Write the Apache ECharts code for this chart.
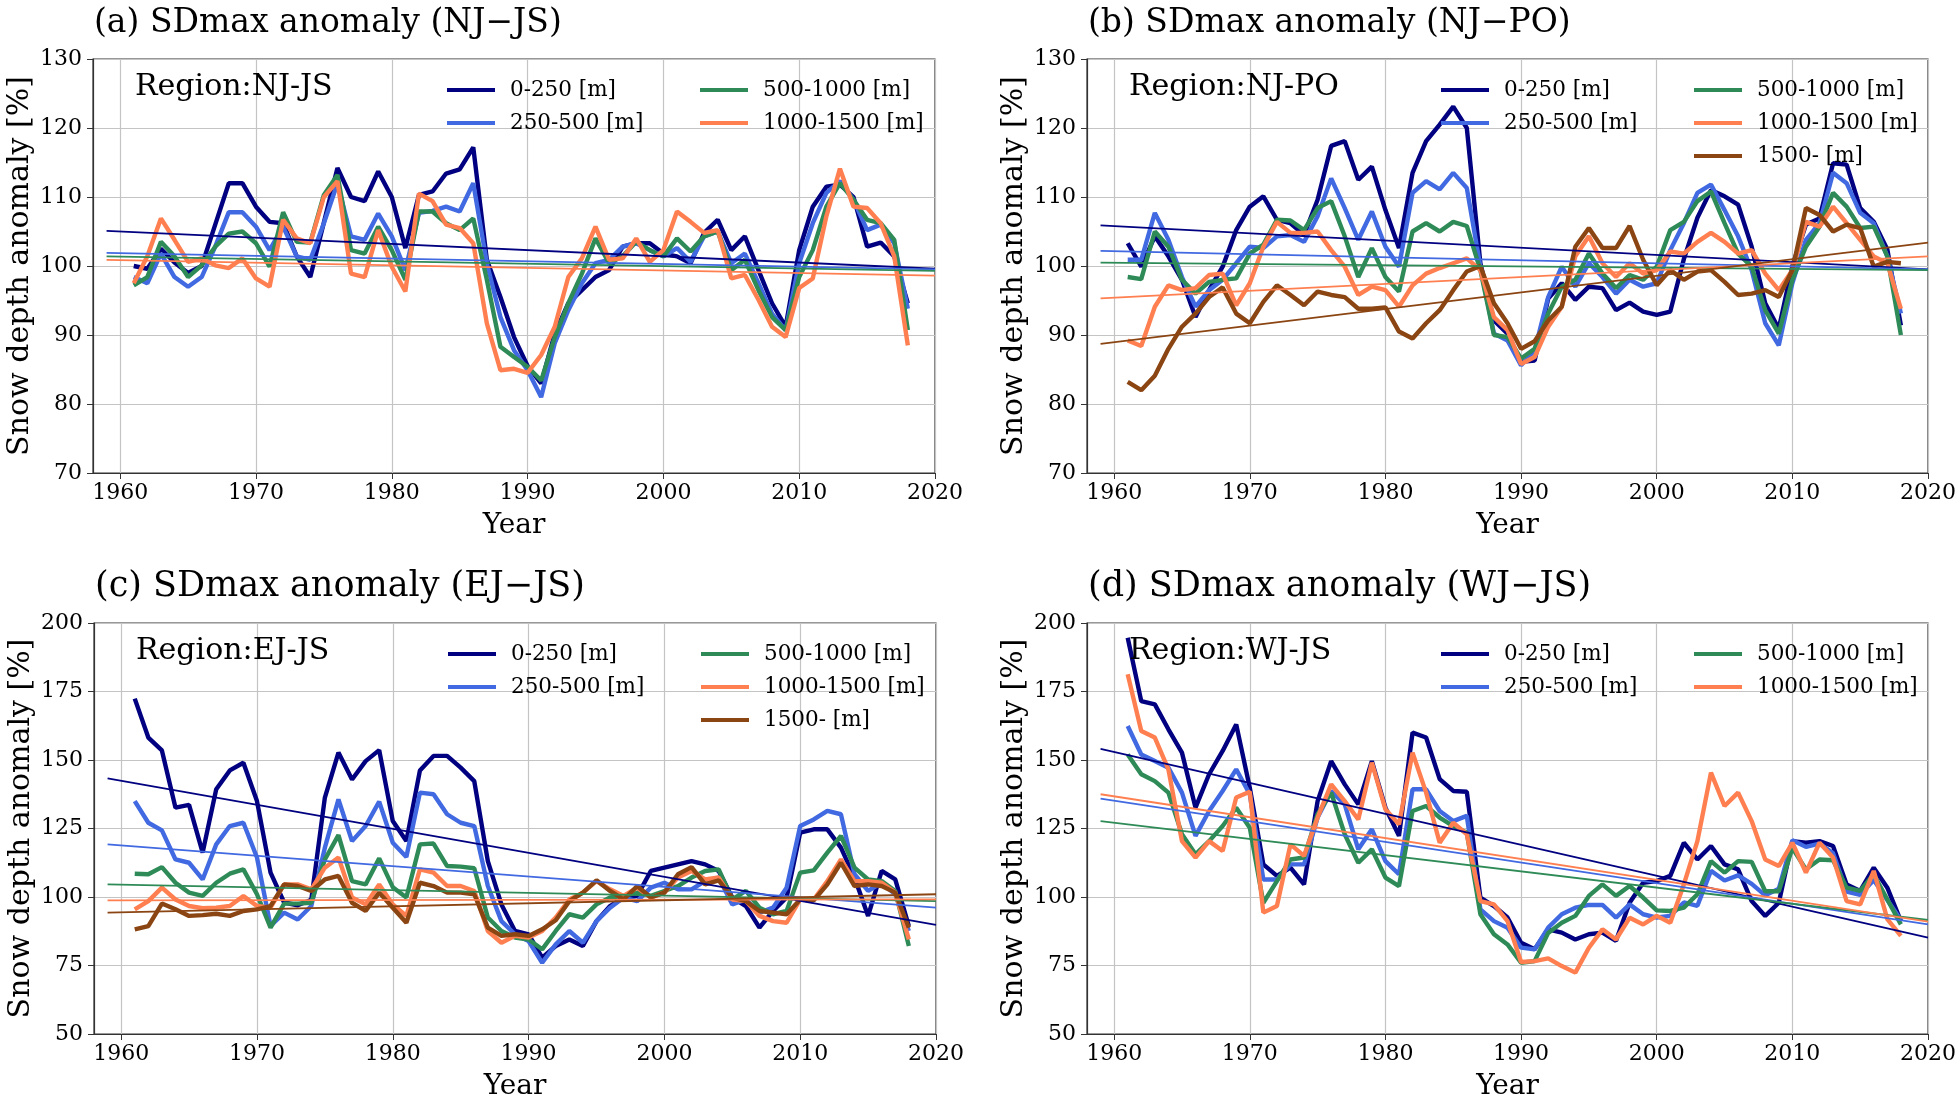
<!DOCTYPE html>
<html>
<head>
<meta charset="utf-8">
<script src="https://cdn.jsdelivr.net/npm/echarts@6/dist/echarts.min.js"></script>
<style>
  html, body { margin: 0; padding: 0; background: #fff; }
  #main { width: 1959px; height: 1102px; }
</style>
</head>
<body>
<div id="main"></div>
<script>
// years 1961-2018 (one value per winter)
var years = [];
for (var y = 1961; y <= 2018; y++) years.push(y);
var trendYears = [1959, 2020];
var xTicks = [1960, 1970, 1980, 1990, 2000, 2010, 2020];

var bands = ['0-250 [m]', '250-500 [m]', '500-1000 [m]', '1000-1500 [m]', '1500- [m]'];
var colors = ['#000080', '#4169e1', '#2e8b57', '#ff7f50', '#8b4513'];

// (a) NJ-JS
var a_0_250 = [100, 99.6, 102.5, 100.5, 99, 100, 106, 112, 112, 108.6,
  106.4, 106.2, 101.4, 98.4, 106.3, 114.2, 110, 109.4, 113.7, 110,
  102.6, 110.3, 110.8, 113.4, 114, 117.2, 100.9, 95.5, 89.7, 85.5,
  83, 90.2, 94.6, 96.5, 98.4, 99.4, 102.8, 103.3, 103.3, 101.8,
  101.4, 100.4, 104.8, 106.7, 102.3, 104.3, 99.4, 94.6, 91.2, 102.3,
  108.6, 111.5, 111.8, 110, 102.8, 103.4, 101.4, 94.6];
var a_250_500 = [98.4, 97.5, 101.8, 98.4, 97, 98.4, 102.8, 107.8, 107.8, 105.7,
  102.3, 105.7, 101.4, 100.9, 106.2, 112, 104.3, 103.8, 107.6, 104.3,
  99.4, 107.7, 108, 108.6, 107.9, 112, 100.4, 92.6, 87.8, 84.9,
  81, 88.8, 93.6, 97.5, 100.4, 100.9, 102.8, 103.3, 102.3, 101.4,
  102.6, 100.6, 104.3, 105, 100.4, 101.8, 97.5, 93.1, 90.7, 100.4,
  106.2, 110.6, 112.3, 109.6, 105.2, 106, 103.3, 93.8];
var a_500_1000 = [97.2, 98.4, 103.5, 101.4, 98.4, 100.1, 102.8, 104.7, 105, 103.3,
  99.9, 107.8, 103.5, 103.4, 110.3, 113.2, 102.3, 101.8, 105.7, 102.3,
  98, 107.9, 107.9, 106.2, 105.2, 106.9, 98, 88.3, 86.8, 85.4,
  83.4, 89.7, 94.6, 98.9, 104, 100.4, 101.4, 103.5, 102.3, 101.4,
  104, 102.1, 104.3, 105, 99.4, 100.9, 96.5, 92.6, 90.7, 98.4,
  102.3, 108.6, 112, 109.6, 106.7, 106.2, 103.8, 90.7];
var a_1000_1500 = [97.5, 101.4, 106.9, 103.8, 100.6, 101.1, 100.1, 99.7, 101.1, 98.2,
  97, 106.7, 104, 103.3, 110, 112.3, 98.9, 98.4, 105.2, 99.9,
  96.3, 110.5, 109.4, 106, 105.5, 103.3, 91.7, 84.9, 85.1, 84.5,
  87.1, 91.2, 98.4, 101.1, 105.7, 100.9, 101.1, 104, 100.6, 102.3,
  107.9, 106.4, 104.8, 105.2, 98.2, 98.7, 95.1, 91.2, 89.7, 96.8,
  98.2, 107.2, 114.1, 108.6, 108.4, 106.2, 101.4, 88.5];
var a_trends = [[105.1, 99.6], [101.9, 99.5], [101.4, 99.3], [100.9, 98.6]];

// (b) NJ-PO
var b_0_250 = [103.3, 99.9, 104.3, 101.4, 98, 92.6, 96.5, 99.9, 105.2, 108.6,
  110.1, 106.7, 106.2, 104.5, 109.6, 117.4, 118.1, 112.5, 114.4, 108.1,
  102.6, 113.5, 118.1, 120.5, 123.1, 120, 100.4, 92.1, 90.2, 86.1,
  86.3, 95.3, 97.5, 95.1, 97, 96.8, 93.6, 94.7, 93.4, 92.9,
  93.4, 101, 107, 111, 110.1, 108.9, 102.8, 94.6, 90.9, 100,
  106, 106.9, 114.9, 114.7, 108.4, 106.4, 102.4, 91.4];
var b_250_500 = [100.9, 100.9, 107.7, 103.8, 98.4, 94.1, 96.5, 98, 100.4, 102.8,
  102.6, 104.3, 104.5, 103.5, 107.2, 112.7, 108.4, 103.8, 107.9, 102.8,
  99.9, 110.6, 112.3, 111.1, 113.5, 111.3, 99.9, 90.2, 89.2, 85.6,
  87.8, 95.5, 99.9, 97, 100.4, 98.4, 96, 98, 97, 97.5,
  102.3, 106.2, 110.6, 111.8, 108.1, 104.3, 99.4, 91.7, 88.5, 97.5,
  103.8, 106.2, 113.5, 112, 107.7, 106.2, 101.4, 93.1];
var b_500_1000 = [98.4, 98.1, 105, 102.8, 98, 96, 97.7, 98, 98.2, 101.8,
  103.1, 106.7, 106.6, 105.2, 108.4, 109.4, 104.3, 98.4, 102.6, 98.4,
  96.3, 105, 106.2, 105, 106.4, 105.8, 99.4, 90, 89.7, 86.6,
  88, 93.1, 97, 98, 101.8, 98.9, 96.8, 98.7, 98, 99.9,
  105.2, 106.4, 109.4, 110.8, 106.2, 101.8, 99.9, 93.6, 90.2, 98,
  102.8, 105.7, 110.6, 108.6, 105.5, 105.7, 101.4, 90];
var b_1000_1500 = [89.2, 88.4, 94.1, 97.2, 96.5, 96.8, 98.7, 98.9, 94.3, 97.5,
  102.8, 106.4, 104.8, 104.8, 105, 102.3, 99.9, 95.8, 97, 96.5,
  94.1, 97.2, 98.9, 99.7, 100.4, 101.1, 99.4, 92.6, 90.7, 85.8,
  86.8, 91.2, 94.1, 101.4, 104.3, 100.4, 98.4, 100.4, 98.9, 99.4,
  102.1, 101.8, 103.5, 104.8, 103.5, 101.8, 102.3, 98.9, 96.5, 99.4,
  106.4, 105.7, 108.6, 106.2, 103.8, 101.4, 100.4, 93.8];
var b_1500 = [83.2, 82, 84.1, 88, 91.2, 93.1, 95.5, 96.9, 93.1, 91.7,
  94.8, 97.2, 95.8, 94.3, 96.3, 95.8, 95.5, 93.8, 93.8, 94,
  90.5, 89.5, 91.7, 93.6, 96.5, 99.2, 100, 94.6, 91.7, 88,
  89.1, 92.1, 94.1, 102.8, 105.5, 102.6, 102.6, 105.8, 100.9, 97.2,
  99.4, 98, 99.2, 99.4, 97.7, 95.8, 96, 96.5, 95.5, 99.4,
  108.4, 107.4, 105, 106, 105.5, 99.9, 100.6, 100.4];
var b_trends = [[105.9, 99.5], [102.2, 99.5], [100.5, 99.4], [95.3, 101.4], [88.7, 103.4]];

// (c) EJ-JS
var c_0_250 = [172.4, 158.2, 153.5, 132.6, 133.6, 116.2, 139.3, 146.2, 149, 135,
  108.9, 98, 97, 99, 136.3, 152.7, 142.9, 149.6, 153.6, 127.7,
  120.4, 146.2, 151.5, 151.5, 147.2, 142.3, 113.1, 97.3, 87.6, 86.4,
  77.9, 82.1, 84.5, 82.1, 91.2, 96.7, 99.8, 100.4, 109.5, 110.7,
  111.9, 113.1, 111.9, 109.5, 99.8, 96.7, 88.8, 94.9, 99.8, 123.5,
  124.7, 124.7, 118, 107.1, 93.1, 109.5, 106.4, 89.4];
var c_250_500 = [135, 127.1, 124.3, 113.7, 112.5, 106.4, 119.2, 125.9, 127.1, 114.4,
  89.4, 94.3, 91.8, 96.7, 118, 135.6, 120.4, 125.9, 134.8, 119.8,
  114.6, 138.1, 137.5, 130.2, 127.1, 125.9, 104, 91.2, 86.4, 83.9,
  76, 82.7, 87.6, 83.3, 91.2, 96.1, 99.8, 98.5, 103.4, 105.2,
  102.8, 102.8, 105.8, 107.1, 97.3, 99.1, 94.3, 96.1, 103.4, 125.9,
  128.3, 131.4, 130.2, 108.3, 102.2, 105.2, 101, 87.6];
var c_500_1000 = [108.5, 108.3, 110.9, 105.2, 101.6, 100.4, 105.2, 108.5, 110.1, 101,
  88.8, 97.6, 97.6, 97.9, 113.7, 122.6, 105.8, 104.6, 114.1, 103.6,
  99.8, 119.2, 119.5, 111.3, 111.1, 110.5, 92.5, 87.6, 85.2, 84.5,
  80.9, 87.6, 93.7, 92.5, 97.3, 99.8, 100.4, 101.6, 100.4, 102.2,
  104, 107.1, 109.5, 110.1, 99.1, 102.2, 96.1, 93.7, 94.9, 108.9,
  109.7, 116.2, 122.3, 110.7, 106.4, 105.8, 102.2, 82.1];
var c_1000_1500 = [95.5, 98.5, 103.4, 99.1, 96.7, 95.9, 96.1, 96.7, 100.4, 96.7,
  96.1, 104.6, 104.6, 102.8, 110.7, 114.4, 99.8, 97.3, 104.6, 97.3,
  93.1, 110.1, 108.9, 104, 104, 102.2, 87.6, 83.3, 85.8, 85.2,
  87.6, 92.5, 99.1, 101.6, 105.8, 102.8, 100.4, 103.4, 99.8, 101.6,
  107.1, 109.5, 106.4, 107.1, 99.1, 98.5, 93.1, 91.2, 90.6, 99.1,
  99.1, 105.8, 113.7, 105.8, 105.8, 105.2, 101.6, 84.5];
var c_1500 = [88.2, 89.4, 97.6, 95.5, 93.1, 93.4, 93.9, 93.1, 94.9, 95.5,
  96.7, 104.6, 104, 102.2, 106.4, 107.7, 97.9, 94.9, 101.6, 96.1,
  90.6, 105.2, 104, 101.6, 101.6, 101, 88.8, 85.8, 86.4, 85.8,
  88.2, 91.5, 98.5, 101.6, 106.1, 102.2, 99.1, 104, 99.8, 101.6,
  108.3, 110.9, 104.6, 106.1, 99.8, 98.5, 94.9, 94.3, 93.7, 99.1,
  98.8, 104.6, 112.5, 104, 104.6, 104, 101.6, 88.8];
var c_trends = [[143.3, 89.8], [119.2, 96.1], [104.6, 98.5], [98.8, 99.1], [94.3, 101]];

// (d) WJ-JS
var d_0_250 = [194.6, 171.5, 170.3, 161.2, 152.7, 132.6, 144.8, 153.3, 163, 139.9,
  111.9, 107.7, 110.7, 104.6, 135, 149.6, 141.1, 133.8, 149.6, 132.6,
  122.3, 160, 158.2, 143, 138.7, 138.4, 99.8, 96.7, 92.5, 83.3,
  80.9, 88.2, 87, 84.5, 86.4, 87, 84, 97.9, 105.2, 105.8,
  107.7, 119.8, 113.7, 118.6, 111.9, 110.1, 98.5, 93.1, 97.9, 120.4,
  119.8, 120.4, 118.6, 104.6, 102.2, 110.7, 103.4, 91.2];
var d_250_500 = [162.4, 152, 149.6, 147.2, 138.1, 122.3, 131.4, 138.7, 146.6, 137.5,
  106.4, 106.4, 111.9, 111.9, 129, 138.7, 133.8, 117.4, 124.7, 113.1,
  108.3, 139.3, 139.3, 131.4, 127.7, 129.6, 95.5, 91.2, 88.8, 81.5,
  80.9, 88.8, 93.7, 96.1, 97.1, 97.1, 92.5, 97.3, 93.7, 92.5,
  93.1, 98, 96.8, 109.6, 106, 107.9, 104.8, 100.6, 103, 120.7,
  118.3, 119.5, 116, 102, 100.8, 106.2, 98.9, 91.6];
var d_500_1000 = [152, 144.8, 142.3, 138.1, 122.9, 115.6, 120.4, 125.9, 132.6, 125.3,
  97.9, 105.8, 113.7, 114.4, 130.2, 138.1, 122.9, 112.5, 117.4, 107.1,
  104, 131.4, 133.2, 129, 125.9, 123.5, 93.7, 86.4, 82.7, 76,
  76.6, 86.9, 90.6, 93.1, 100.4, 104.6, 100.4, 104, 99.8, 95.1,
  94.9, 96.1, 101, 113.1, 108.9, 113.1, 112.8, 102.1, 102.1, 117.9,
  110.1, 113.7, 113.4, 103.4, 102.2, 108.3, 99.1, 90];
var d_1000_1500 = [181.3, 160.6, 158.2, 146.6, 120.4, 114.4, 120.4, 116.8, 136.3, 138.4,
  94.3, 96.7, 119.2, 115, 129, 141.1, 135, 128.3, 149, 132,
  126.5, 152.7, 138.1, 119.8, 127.1, 122.9, 98.5, 97.3, 91.2, 76.3,
  76.6, 77.6, 74.8, 72.4, 81.5, 88.2, 84.5, 92.4, 90, 93.1,
  90.6, 104.6, 120.4, 145.4, 133.2, 138.1, 127.7, 113.7, 111.3, 119.8,
  108.9, 119.8, 114.4, 98.5, 97.3, 109.5, 91.9, 85.8];
var d_trends = [[154.1, 85.2], [135.9, 90], [127.7, 91.6], [137.5, 91]];

var FONT = "'DejaVu Serif', serif";

var panels = [
  { title: '(a) SDmax anomaly (NJ\u2212JS)', region: 'Region:NJ-JS', titleSize: 33,
    lines: [a_0_250, a_250_500, a_500_1000, a_1000_1500], trends: a_trends,
    left: 93, top: 59, min: 70, max: 130, step: 10 },
  { title: '(b) SDmax anomaly (NJ\u2212PO)', region: 'Region:NJ-PO', titleSize: 33,
    lines: [b_0_250, b_250_500, b_500_1000, b_1000_1500, b_1500], trends: b_trends,
    left: 1087, top: 59, min: 70, max: 130, step: 10 },
  { title: '(c) SDmax anomaly (EJ\u2212JS)', region: 'Region:EJ-JS', titleSize: 35,
    lines: [c_0_250, c_250_500, c_500_1000, c_1000_1500, c_1500], trends: c_trends,
    left: 94, top: 623, min: 50, max: 200, step: 25 },
  { title: '(d) SDmax anomaly (WJ\u2212JS)', region: 'Region:WJ-JS', titleSize: 35,
    lines: [d_0_250, d_250_500, d_500_1000, d_1000_1500], trends: d_trends,
    left: 1087, top: 623, min: 50, max: 200, step: 25 }
];

var grids = [], xAxes = [], yAxes = [], series = [], titles = [], legends = [];

panels.forEach(function (p, i) {
  grids.push({
    left: p.left, top: p.top, width: 842, height: 414,
    show: true, borderColor: '#333', borderWidth: 1.2, backgroundColor: 'transparent'
  });
  xAxes.push({
    type: 'value', gridIndex: i, min: 1958, max: 2020,
    name: 'Year', nameLocation: 'middle', nameGap: 39,
    nameTextStyle: { fontFamily: FONT, fontSize: 28, color: '#000' },
    axisLine: { show: true, onZero: false, lineStyle: { color: '#333', width: 1.2 } },
    axisTick: { show: true, length: 6, customValues: xTicks, lineStyle: { color: '#333' } },
    axisLabel: { customValues: xTicks, fontFamily: FONT, fontSize: 22, color: '#000', margin: 9,
      formatter: function (v) { return String(v); } },
    splitLine: { show: true, lineStyle: { color: '#c4c4c4', width: 1.2 } }
  });
  yAxes.push({
    type: 'value', gridIndex: i, min: p.min, max: p.max, interval: p.step,
    name: 'Snow depth anomaly [%]', nameLocation: 'middle', nameGap: 58,
    nameTextStyle: { fontFamily: FONT, fontSize: 30, color: '#000' },
    axisLine: { show: true, onZero: false, lineStyle: { color: '#333', width: 1.2 } },
    axisTick: { show: true, length: 6, lineStyle: { color: '#333' } },
    axisLabel: { fontFamily: FONT, fontSize: 22, color: '#000', margin: 11 },
    splitLine: { show: true, lineStyle: { color: '#c4c4c4', width: 1.2 } }
  });

  p.lines.forEach(function (vals, k) {
    series.push({
      name: bands[k], type: 'line', xAxisIndex: i, yAxisIndex: i,
      data: years.map(function (yr, j) { return [yr, vals[j]]; }),
      showSymbol: false, symbol: 'none',
      itemStyle: { color: colors[k] },
      lineStyle: { color: colors[k], width: 4.4 }
    });
  });
  p.trends.forEach(function (tv, k) {
    series.push({
      name: bands[k] + ' trend', type: 'line', xAxisIndex: i, yAxisIndex: i,
      data: [[trendYears[0], tv[0]], [trendYears[1], tv[1]]],
      showSymbol: false, symbol: 'none', z: 3,
      itemStyle: { color: colors[k] },
      lineStyle: { color: colors[k], width: 1.8 }
    });
  });

  titles.push({
    text: p.title, left: p.left + 1, top: p.top - 52 - (p.titleSize - 33), padding: 0,
    textStyle: { fontFamily: FONT, fontSize: p.titleSize, fontWeight: 'normal', color: '#000' }
  });
  titles.push({
    text: p.region, left: p.left + 42, top: p.top + 13, padding: 0,
    textStyle: { fontFamily: FONT, fontSize: 30, fontWeight: 'normal', color: '#000' }
  });

  var names = bands.slice(0, p.lines.length);
  [names.slice(0, 2), names.slice(2)].forEach(function (col, c) {
    legends.push({
      data: col, orient: 'vertical', left: p.left + (c === 0 ? 354 : 607), top: p.top + 20,
      padding: 0, itemGap: 11, itemWidth: 48, itemHeight: 4, icon: 'rect',
      selectedMode: false,
      textStyle: { fontFamily: FONT, fontSize: 21.5, lineHeight: 22, color: '#000', padding: [0, 0, 0, 10] }
    });
  });
});

var myChart = echarts.init(document.getElementById('main'));
myChart.setOption({
  backgroundColor: '#fff',
  animation: false,
  title: titles,
  legend: legends,
  grid: grids,
  xAxis: xAxes,
  yAxis: yAxes,
  series: series
});
</script>
</body>
</html>
